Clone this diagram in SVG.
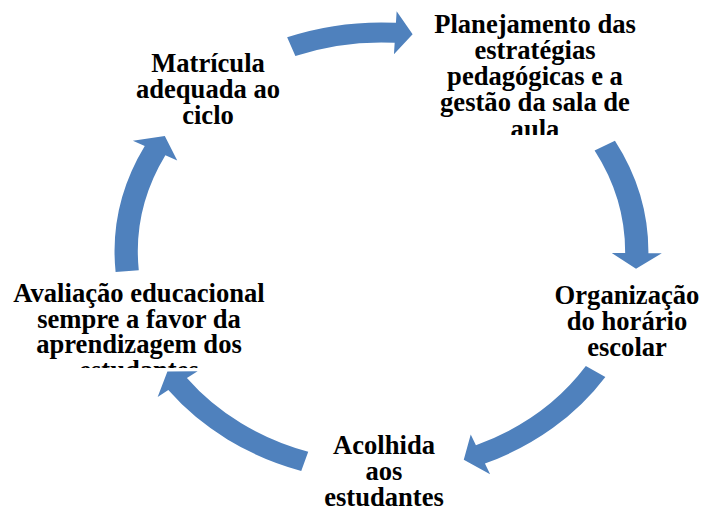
<svg xmlns="http://www.w3.org/2000/svg" width="704" height="514" viewBox="0 0 704 514">
<defs>
<style>
.t{font-family:"Liberation Serif","Times New Roman",Times,serif;font-weight:bold;font-size:26.6px;fill:#000;text-anchor:middle}
.a{fill:#4F81BD}
</style>
<clipPath id="c1"><rect x="380" y="0" width="320" height="135"/></clipPath>
<clipPath id="c2"><rect x="0" y="270" width="290" height="98"/></clipPath>
</defs>
<rect width="704" height="514" fill="#fff"/>
<g id="connectors" transform="translate(381.5,252) scale(1.163,1)">
<path class="a" d="M -81.13,-214.67 A 229.5 229.5 0 0 1 12.41,-229.16 L 13.03,-240.65 L 26.75,-217.86 L 10.71,-197.71 L 11.33,-209.19 A 209.5 209.5 0 0 0 -74.06,-195.97 Z"/>
<path class="a" d="M 200.72,-111.26 A 229.5 229.5 0 0 1 229.50,1.20 L 241.00,1.26 L 218.85,16.84 L 198.00,1.04 L 209.50,1.10 A 209.5 209.5 0 0 0 183.23,-101.57 Z"/>
<path class="a" d="M 192.48,125.00 A 229.5 229.5 0 0 1 88.94,211.57 L 93.39,222.17 L 70.74,207.79 L 76.73,182.53 L 81.19,193.13 A 209.5 209.5 0 0 0 175.70,114.10 Z"/>
<path class="a" d="M -69.01,218.88 A 229.5 229.5 0 0 1 -183.29,138.12 L -192.47,145.04 L -184.09,119.55 L -158.13,119.16 L -167.31,126.08 A 209.5 209.5 0 0 0 -63.00,199.80 Z"/>
<path class="a" d="M -228.63,20.00 A 229.5 229.5 0 0 1 -203.57,-105.97 L -213.77,-111.28 L -186.32,-116.05 L -175.63,-91.43 L -185.83,-96.74 A 209.5 209.5 0 0 0 -208.70,18.26 Z"/>
</g>
<g id="n1">
<text class="t" x="208" y="72">Matrícula</text>
<text class="t" x="208" y="98">adequada ao</text>
<text class="t" x="208" y="124">ciclo</text>
</g>
<g id="n2" clip-path="url(#c1)">
<text class="t" x="535" y="33">Planejamento das</text>
<text class="t" x="535" y="59">estratégias</text>
<text class="t" x="535" y="85">pedagógicas e a</text>
<text class="t" x="535" y="111">gestão da sala de</text>
<text class="t" x="535" y="138">aula</text>
</g>
<g id="n3">
<text class="t" x="627" y="304">Organização</text>
<text class="t" x="627" y="330">do horário</text>
<text class="t" x="627" y="356">escolar</text>
</g>
<g id="n4">
<text class="t" x="384" y="454">Acolhida</text>
<text class="t" x="384" y="480">aos</text>
<text class="t" x="384" y="506">estudantes</text>
</g>
<g id="n5" clip-path="url(#c2)">
<text class="t" x="139" y="302">Avaliação educacional</text>
<text class="t" x="139" y="327.5">sempre a favor da</text>
<text class="t" x="139" y="353">aprendizagem dos</text>
<text class="t" x="139" y="378.5">estudantes</text>
</g>
</svg>
